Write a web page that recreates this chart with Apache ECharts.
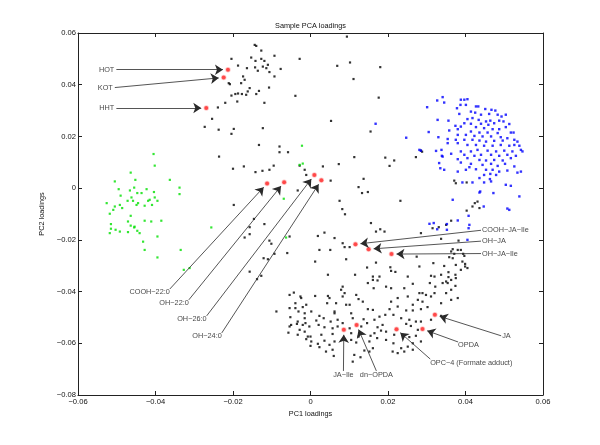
<!DOCTYPE html>
<html>
<head>
<meta charset="utf-8">
<script src="https://cdn.jsdelivr.net/npm/echarts@6/dist/echarts.min.js"></script>
<style>html,body{margin:0;padding:0;background:#fff}#main{width:600px;height:445px}</style>
</head>
<body>
<div id="main"></div>
<script>
// ---- data (PC1, PC2 loadings) ----
const xTicks = [-0.06, -0.04, -0.02, 0, 0.02, 0.04, 0.06];
const yTicks = [-0.08, -0.06, -0.04, -0.02, 0, 0.02, 0.04, 0.06];

const blackPts = [
[-0.0144,0.0554],[-0.0140,0.0550],[-0.0127,0.0532],[-0.0093,0.0512],[-0.0028,0.0500],[-0.0204,0.0500],[-0.0153,0.0505],[-0.0142,0.0492],[-0.0127,0.0500],[-0.0119,0.0492],[-0.0187,0.0474],[-0.0164,0.0464],[-0.0143,0.0467],[-0.0136,0.0454],[-0.0123,0.0470],[-0.0114,0.0464],[-0.0110,0.0477],[-0.0077,0.0461],[-0.0106,0.0449],[-0.0093,0.0432],[-0.0174,0.0432],[-0.0170,0.0419],[-0.0179,0.0406],[-0.0211,0.0406],[-0.0208,0.0402],[-0.0107,0.0389],[-0.0157,0.0387],[-0.0162,0.0374],[-0.0133,0.0376],[-0.0140,0.0364],[-0.0166,0.0361],[-0.0177,0.0364],[-0.0187,0.0366],[-0.0194,0.0364],[-0.0204,0.0358],[-0.0039,0.0357],[-0.0189,0.0335],[-0.0220,0.0330],[-0.0119,0.0330],[-0.0239,0.0312],[-0.0254,0.0268],[-0.0273,0.0237],[-0.0237,0.0226],[-0.0198,0.0229],[-0.0204,0.0210],[-0.0123,0.0232],[0.0053,0.0260],[-0.0133,0.0167],[-0.0080,0.0161],[-0.0080,0.0139],[-0.0058,0.0139],[-0.0236,0.0122],[-0.0172,0.0084],[-0.0200,0.0075],[-0.0142,0.0062],[-0.0124,0.0067],[-0.0106,0.0071],[-0.0095,0.0087],[-0.0028,0.0087],[-0.0015,0.0071],[0.0032,0.0084],[0.0052,0.0029],[-0.0011,0.0051],[-0.0033,-0.0009],
[0.0094,0.0586],[0.0069,0.0473],[0.0102,0.0486],[0.0180,0.0468],[0.0111,0.0422],[0.0176,0.0350],[0.0155,0.0219],[0.0113,0.0120],[0.0073,0.0093],[0.0193,0.0118],[0.0216,0.0107],[0.0204,0.0086],[0.0272,0.0120],[0.0285,0.0145],[0.0288,0.0141],
[0.0371,0.0029],[0.0375,0.0019],[0.0403,0.0022],[0.0431,-0.0052],[0.0418,-0.0071],[0.0436,-0.0077],[0.0424,-0.0058],[0.0403,-0.0087],
[0.0137,0.0036],[0.0124,0.0004],[0.0133,-0.0019],[0.0148,-0.0015],[0.0232,-0.0049],[0.0075,-0.0049],[0.0082,-0.0081],[0.0089,-0.0101],[0.0156,-0.0135],[0.0169,-0.0168],[0.0180,-0.0159],[0.0191,-0.0168],[0.0036,-0.0172],[0.0062,-0.0193],[0.0019,-0.0185],[0.0083,-0.0213],[0.0088,-0.0228],[0.0101,-0.0228],[0.0023,-0.0239],[0.0051,-0.0239],[0.0092,-0.0275],[0.0012,-0.0284],[0.0146,-0.0307],[0.0169,-0.0288],[0.0206,-0.0306],[0.0208,-0.0320],[0.0219,-0.0324],[0.0178,-0.0342],[0.0115,-0.0335],[0.0251,-0.0342],[0.0281,-0.0303],[0.0311,-0.0339],[0.0345,-0.0301],[0.0356,-0.0325],[0.0363,-0.0126],[0.0350,-0.0142],[0.0315,-0.0155],[0.0285,-0.0174],[0.0337,-0.0196],[0.0382,-0.0203],[0.0367,-0.0236],[0.0380,-0.0239],[0.0388,-0.0239],[0.0371,-0.0254],[0.0394,-0.0254],[0.0358,-0.0267],[0.0317,-0.0290],[0.0392,-0.0284],[0.0399,-0.0303],[0.0405,-0.0309],[0.0375,-0.0348],[0.0274,-0.0265],[0.0331,-0.0151],[0.0399,-0.0293],[0.0375,-0.0297],[0.0320,-0.0342],[0.0356,-0.0344],[0.0350,-0.0361],[0.0308,-0.0367],[0.0322,-0.0381],[0.0045,-0.0335],[0.0148,-0.0367],[0.0161,-0.0355],[0.0195,-0.0381],[0.0083,-0.0381],
[-0.0198,-0.0065],[-0.0146,-0.0119],[-0.0119,-0.0139],[-0.0157,-0.0151],[-0.0170,-0.0191],[-0.0157,-0.0178],[-0.0106,-0.0203],[-0.0101,-0.0215],[-0.0093,-0.0254],[-0.0121,-0.0271],[-0.0110,-0.0275],[-0.0054,-0.0187],[-0.0060,-0.0251],[-0.0157,-0.0323],[-0.0127,-0.0339],[-0.0138,-0.0352],
[0.0161,-0.0342],[0.0173,-0.0357],[0.0163,-0.0387],[-0.0054,-0.0413],[-0.0043,-0.0404],[-0.0026,-0.0419],[-0.0024,-0.0425],[0.0012,-0.0417],[0.0079,-0.0393],[0.0088,-0.0406],[0.0045,-0.0417],[0.0118,-0.0413],[0.0124,-0.0429],[0.0135,-0.0439],[-0.0039,-0.0445],[-0.0011,-0.0451],[-0.0020,-0.0460],[0.0043,-0.0445],[0.0066,-0.0445],[0.0092,-0.0451],[-0.0054,-0.0464],[-0.0031,-0.0477],[-0.0015,-0.0484],[0.0002,-0.0477],[0.0023,-0.0494],[0.0062,-0.0484],[0.0105,-0.0484],[0.0148,-0.0468],[0.0161,-0.0471],[-0.0052,-0.0499],[-0.0033,-0.0516],[-0.0015,-0.0503],[0.0015,-0.0512],[0.0034,-0.0503],[0.0052,-0.0516],[0.0070,-0.0509],[0.0083,-0.0522],[0.0109,-0.0503],[0.0137,-0.0507],[0.0165,-0.0509],[0.0178,-0.0497],[-0.0050,-0.0529],[-0.0020,-0.0529],[-0.0003,-0.0535],[0.0021,-0.0529],[0.0036,-0.0538],[0.0057,-0.0542],[0.0070,-0.0535],[0.0101,-0.0542],[0.0131,-0.0535],[0.0146,-0.0522],[0.0173,-0.0538],[-0.0057,-0.0559],[-0.0033,-0.0567],[-0.0015,-0.0555],[0.0000,-0.0574],[0.0028,-0.0567],[0.0057,-0.0564],[0.0105,-0.0561],[0.0124,-0.0574],[0.0155,-0.0571],[0.0165,-0.0561],[0.0182,-0.0551],[0.0002,-0.0593],[0.0019,-0.0602],[0.0036,-0.0590],[0.0049,-0.0606],[0.0062,-0.0593],[0.0105,-0.0587],[0.0118,-0.0597],[0.0152,-0.0593],[0.0172,-0.0580],[0.0000,-0.0610],[0.0023,-0.0615],[0.0040,-0.0632],[0.0057,-0.0625],[0.0139,-0.0628],[0.0152,-0.0632],[0.0161,-0.0619],[0.0113,-0.0645],[0.0060,-0.0649],[0.0129,-0.0654],[0.0109,-0.0671],
[0.0363,-0.0245],[0.0367,-0.0271],[0.0397,-0.0262],[0.0388,-0.0316],[0.0374,-0.0335],[0.0363,-0.0355],[0.0354,-0.0367],[0.0337,-0.0335],[0.0208,-0.0387],[0.0242,-0.0387],[0.0264,-0.0370],[0.0281,-0.0406],[0.0289,-0.0406],[0.0298,-0.0413],[0.0311,-0.0419],[0.0320,-0.0406],[0.0289,-0.0439],[0.0277,-0.0432],[0.0264,-0.0451],[0.0251,-0.0419],[0.0225,-0.0425],[0.0208,-0.0439],[0.0204,-0.0468],[0.0225,-0.0458],[0.0247,-0.0473],[0.0264,-0.0473],[0.0285,-0.0468],[0.0302,-0.0460],[0.0337,-0.0445],[0.0363,-0.0432],[0.0193,-0.0490],[0.0214,-0.0490],[0.0234,-0.0503],[0.0255,-0.0509],[0.0272,-0.0516],[0.0285,-0.0516],[0.0247,-0.0525],[0.0259,-0.0533],[0.0311,-0.0509],[0.0337,-0.0494],[0.0195,-0.0555],[0.0186,-0.0529],[0.0216,-0.0567],[0.0240,-0.0574],[0.0255,-0.0576],[0.0272,-0.0571],[0.0277,-0.0548],[0.0195,-0.0587],[0.0214,-0.0600],[0.0234,-0.0619],[0.0251,-0.0613],[0.0264,-0.0600],[0.0285,-0.0593],[0.0212,-0.0632],[0.0225,-0.0638],[0.0242,-0.0632],[0.0264,-0.0625],[0.0350,-0.0406],[0.0380,-0.0425],[0.0363,-0.0393],[0.0374,-0.0378],[0.0341,-0.0367],[0.0049,-0.0425],[0.0062,-0.0477],[0.0083,-0.0419],[0.0101,-0.0451],[-0.0011,-0.0584],
[-0.0088,-0.0477],[-0.0039,-0.0464],[-0.0035,-0.0525],[-0.0013,-0.0522],[-0.0007,-0.0574],[-0.0028,-0.0548],[-0.0054,-0.0535]
];

const bluePts = [
[0.0341,0.0352],[0.0327,0.0339],[0.0345,0.0331],[0.0301,0.0313],[0.0388,0.0342],[0.0397,0.0342],[0.0405,0.0344],[0.0387,0.0322],[0.0401,0.0322],[0.0427,0.0316],[0.0433,0.0316],[0.0378,0.0309],[0.0451,0.0306],[0.0467,0.0303],[0.0477,0.0300],[0.0414,0.0296],[0.0425,0.0292],[0.0440,0.0284],[0.0461,0.0287],[0.0483,0.0284],[0.0493,0.0277],[0.0504,0.0284],[0.0384,0.0287],[0.0328,0.0264],[0.0356,0.0261],[0.0405,0.0267],[0.0418,0.0271],[0.0434,0.0264],[0.0453,0.0258],[0.0464,0.0261],[0.0487,0.0261],[0.0498,0.0258],[0.0397,0.0251],[0.0414,0.0249],[0.0440,0.0249],[0.0459,0.0245],[0.0474,0.0251],[0.0513,0.0248],[0.0374,0.0241],[0.0388,0.0238],[0.0427,0.0236],[0.0448,0.0232],[0.0470,0.0228],[0.0487,0.0228],[0.0504,0.0236],[0.0358,0.0223],[0.0380,0.0228],[0.0305,0.0217],[0.0414,0.0219],[0.0436,0.0215],[0.0457,0.0215],[0.0483,0.0213],[0.0517,0.0215],[0.0524,0.0215],[0.0380,0.0206],[0.0401,0.0206],[0.0423,0.0202],[0.0444,0.0200],[0.0466,0.0200],[0.0491,0.0197],[0.0508,0.0193],[0.0330,0.0197],[0.0354,0.0190],[0.0375,0.0187],[0.0397,0.0187],[0.0418,0.0187],[0.0436,0.0184],[0.0453,0.0180],[0.0474,0.0183],[0.0496,0.0184],[0.0526,0.0187],[0.0534,0.0180],[0.0354,0.0174],[0.0380,0.0174],[0.0405,0.0167],[0.0427,0.0167],[0.0448,0.0164],[0.0470,0.0164],[0.0491,0.0167],[0.0513,0.0164],[0.0526,0.0167],[0.0539,0.0164],[0.0285,0.0145],[0.0324,0.0144],[0.0338,0.0148],[0.0388,0.0142],[0.0414,0.0142],[0.0431,0.0148],[0.0457,0.0145],[0.0479,0.0142],[0.0500,0.0145],[0.0521,0.0142],[0.0543,0.0148],[0.0547,0.0142],[0.0363,0.0133],[0.0397,0.0129],[0.0423,0.0125],[0.0440,0.0129],[0.0466,0.0129],[0.0487,0.0125],[0.0508,0.0129],[0.0530,0.0125],[0.0341,0.0122],[0.0380,0.0112],[0.0405,0.0116],[0.0436,0.0109],[0.0453,0.0107],[0.0474,0.0109],[0.0496,0.0107],[0.0517,0.0116],[0.0332,0.0097],[0.0388,0.0099],[0.0414,0.0094],[0.0444,0.0090],[0.0466,0.0094],[0.0483,0.0086],[0.0502,0.0094],[0.0526,0.0084],[0.0335,0.0077],[0.0345,0.0071],[0.0410,0.0081],[0.0427,0.0073],[0.0453,0.0071],[0.0470,0.0071],[0.0487,0.0064],[0.0508,0.0068],[0.0543,0.0064],[0.0401,0.0071],[0.0448,0.0051],[0.0464,0.0055],[0.0479,0.0051],[0.0436,0.0039],[0.0418,0.0022],[0.0448,0.0022],[0.0466,0.0026],[0.0504,0.0013],[0.0517,0.0009],[0.0438,-0.0013],[0.0472,-0.0019],[0.0539,-0.0032],[0.0367,-0.0045],[0.0447,-0.0071],[0.0508,-0.0079],[0.0436,-0.0017],[0.0513,-0.0084],[0.0408,-0.0107],[0.0307,-0.0138],[0.0318,-0.0135],[0.0327,-0.0159],[0.0352,-0.0139],[0.0380,-0.0125],[0.0410,-0.0142],[0.0405,-0.0200],[0.0408,-0.0155],[0.0281,0.0148],[0.0339,0.0125],[0.0380,0.0064],[0.0392,0.0022],[0.0463,0.0035],[0.0534,0.0060],[0.0168,0.0249],[0.0247,0.0195],[0.0352,-0.0161]
];

const greenPts = [
[-0.0405,0.0132],[-0.0402,0.0087],[-0.0464,0.0060],[-0.0363,0.0032],[-0.0452,0.0032],[-0.0505,0.0026],[-0.0338,0.0002],[-0.0338,-0.0023],[-0.0495,-0.0004],[-0.0466,-0.0009],[-0.0455,0.0002],[-0.0423,-0.0004],[-0.0447,-0.0019],[-0.0436,-0.0019],[-0.0404,-0.0015],[-0.0490,-0.0029],[-0.0462,-0.0036],[-0.0472,-0.0049],[-0.0458,-0.0049],[-0.0445,-0.0058],[-0.0419,-0.0049],[-0.0415,-0.0045],[-0.0402,-0.0036],[-0.0395,-0.0049],[-0.0526,-0.0058],[-0.0505,-0.0071],[-0.0492,-0.0065],[-0.0449,-0.0065],[-0.0428,-0.0068],[-0.0409,-0.0065],[-0.0486,-0.0077],[-0.0509,-0.0084],[-0.0518,-0.0099],[-0.0464,-0.0107],[-0.0428,-0.0126],[-0.0411,-0.0129],[-0.0385,-0.0126],[-0.0471,-0.0129],[-0.0515,-0.0139],[-0.0464,-0.0145],[-0.0455,-0.0152],[-0.0454,-0.0149],[-0.0515,-0.0157],[-0.0503,-0.0161],[-0.0492,-0.0168],[-0.0471,-0.0170],[-0.0518,-0.0174],[-0.0447,-0.0165],[-0.0441,-0.0174],[-0.0395,-0.0187],[-0.0432,-0.0207],[-0.0428,-0.0239],[-0.0335,-0.0239],[-0.0395,-0.0268],[-0.0327,-0.0316],[-0.0312,-0.0309],[-0.0256,-0.0152],[-0.0069,-0.0041],[-0.0063,-0.0191],[-0.0022,0.0164],[-0.0020,0.0095],[-0.0028,0.0090]
];

// highlighted compounds: name, point, and where the arrow tail / label sits
const markNames = ['HOT','KOT','HHT','COOH\u221222:0','OH\u221222:0','OH\u221226:0','OH\u221224:0','COOH\u2212JA\u2212Ile','OH\u2212JA','OH\u2212JA\u2212Ile','JA\u2212Ile','dn\u2212OPDA','OPC\u22124 (Formate adduct)','OPDA','JA'];
const markX = [-0.0213,-0.0224,-0.0269,-0.0112,-0.0068,0.0010,0.0028,0.0116,0.0150,0.0209,0.0086,0.0119,0.0222,0.0289,0.0321];
const markY = [0.0458,0.0428,0.0310,0.0018,0.0023,0.0051,0.0031,-0.0217,-0.0236,-0.0255,-0.0548,-0.0529,-0.0546,-0.0545,-0.0490];
const tailX = [-0.0501,-0.0505,-0.0501,-0.0363,-0.0314,-0.0268,-0.0229,0.0440,0.0440,0.0440,0.0085,0.0170,0.0309,0.0381,0.0492];
const tailY = [0.0458,0.0389,0.0310,-0.0390,-0.0432,-0.0494,-0.0560,-0.0163,-0.0205,-0.0253,-0.0707,-0.0707,-0.0661,-0.0595,-0.0571];

// ---- styling ----
const FONT = 'Liberation Sans, Arial, Helvetica, sans-serif';
const placeStyle = {
  L:  {position:'left', distance:2},
  R:  {position:'right', distance:1},
  BL: {position:[0,0], align:'right', verticalAlign:'top'},
  BR: {position:[0,0], align:'left', verticalAlign:'top'},
  B:  {position:'bottom', distance:0},
  M:  {position:'right', distance:1}
};
const placement = ['L','L','L','BL','BL','BL','BL','R','R','R','B','B','BR','BR','M'];

function fmt(v){
  const r = Math.round(v*100)/100;
  if (Math.abs(r) < 1e-9) return '0';
  return r.toFixed(2).replace('-', '\u2212');
}

const axisCommon = {
  type:'value', splitLine:{show:false},
  axisLine:{onZero:false, lineStyle:{color:'#222', width:1}},
  axisTick:{inside:true, length:4, lineStyle:{color:'#222', width:1}},
  nameTextStyle:{fontFamily:FONT, fontSize:7.3, color:'#111'}
};

const chart = echarts.init(document.getElementById('main'), null, {renderer:'canvas'});
const option = {
  animation:false,
  backgroundColor:'#fff',
  grid:{left:78, right:57, top:33, bottom:50, containLabel:false},
  xAxis:[
    Object.assign({}, axisCommon, {position:'bottom', min:xTicks[0], max:xTicks[xTicks.length-1], interval:0.02,
      name:'PC1 loadings', nameLocation:'middle', nameGap:12,
      axisLabel:{formatter:fmt, fontFamily:FONT, fontSize:7.6, color:'#111', margin:3}}),
    Object.assign({}, axisCommon, {position:'top', min:xTicks[0], max:xTicks[xTicks.length-1], interval:0.02,
      name:'Sample PCA loadings', nameLocation:'middle', nameGap:4,
      axisLabel:{show:false}})
  ],
  yAxis:[
    Object.assign({}, axisCommon, {position:'left', min:yTicks[0], max:yTicks[yTicks.length-1], interval:0.02,
      name:'PC2 loadings', nameLocation:'middle', nameGap:28, nameRotate:90,
      axisLabel:{formatter:fmt, fontFamily:FONT, fontSize:7.6, color:'#111', margin:2}}),
    Object.assign({}, axisCommon, {position:'right', min:yTicks[0], max:yTicks[yTicks.length-1], interval:0.02,
      axisLabel:{show:false}})
  ],
  series:[
    {type:'scatter', name:'black', data:blackPts, symbol:'rect', symbolSize:2.2, itemStyle:{color:'#000'}, silent:true, z:2},
    {type:'scatter', name:'blue', data:bluePts, symbol:'rect', symbolSize:2.4, itemStyle:{color:'#0000ff'}, silent:true, z:2},
    {type:'scatter', name:'green', data:greenPts, symbol:'rect', symbolSize:2.2, itemStyle:{color:'#00e000'}, silent:true, z:2},
    {type:'scatter', name:'marked', data:markX.map((x,i)=>[x,markY[i]]), symbol:'circle', symbolSize:4,
      itemStyle:{color:'#ff1a1a', borderColor:'rgba(255,90,90,0.4)', borderWidth:1.5}, silent:true, z:4},
    {id:'arrows', type:'lines', coordinateSystem:'cartesian2d', data:[], symbol:['none','arrow'], symbolSize:[0,8],
      lineStyle:{color:'#2a2a2a', width:0.8, opacity:1}, silent:true, z:5},
    {type:'scatter', name:'labels', symbolSize:0.1, itemStyle:{color:'rgba(0,0,0,0)'}, silent:true, z:6,
      data:markNames.map((n,i)=>({value:[tailX[i], tailY[i]], name:n,
        label:Object.assign({show:true, formatter:n, fontFamily:FONT, fontSize:7.3, color:'#111'}, placeStyle[placement[i]])}))}
  ]
};
chart.setOption(option);

// arrows: tail at label, head stopping just short of the marked point
const gap = 5;
const arrowData = markNames.map((n,i)=>{
  const t = chart.convertToPixel({seriesIndex:0}, [tailX[i], tailY[i]]);
  const h = chart.convertToPixel({seriesIndex:0}, [markX[i], markY[i]]);
  const dx = h[0]-t[0], dy = h[1]-t[1], L = Math.hypot(dx, dy);
  const e = chart.convertFromPixel({seriesIndex:0}, [h[0]-dx/L*gap, h[1]-dy/L*gap]);
  return {coords:[[tailX[i], tailY[i]], e]};
});
chart.setOption({series:[{id:'arrows', data:arrowData}]});
</script>
</body>
</html>
